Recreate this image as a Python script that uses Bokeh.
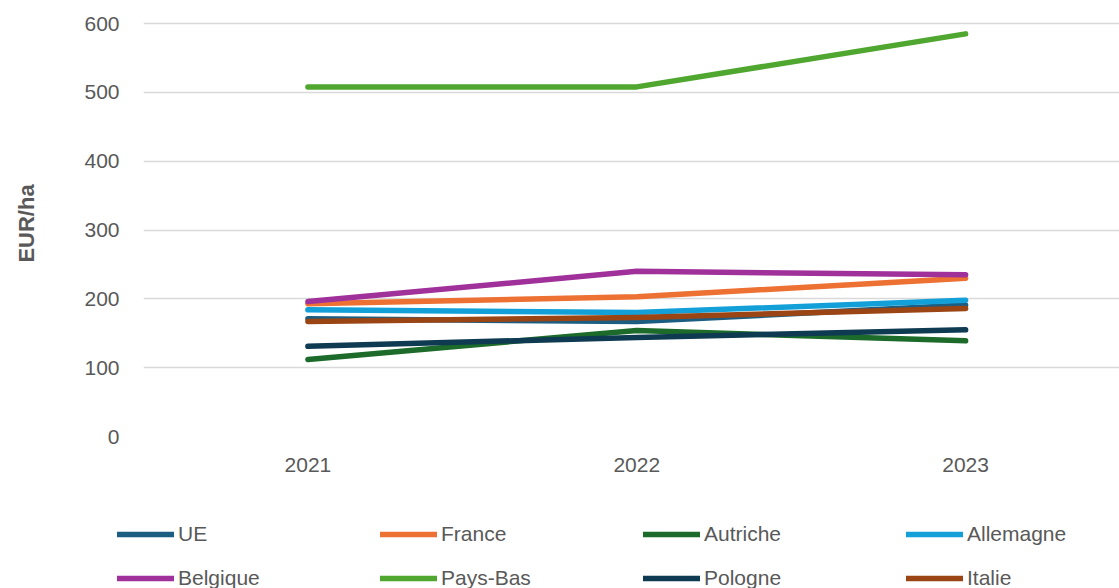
from bokeh.plotting import figure
from bokeh.layouts import column
from bokeh.models import Range1d, FixedTicker, Legend, LegendItem
from bokeh.embed import file_html
from bokeh.resources import INLINE

years = ["2021", "2022", "2023"]
series_names = ["UE", "France", "Autriche", "Allemagne", "Belgique", "Pays-Bas", "Pologne", "Italie"]
ue = [171, 167, 191]
france = [193, 203, 230]
autriche = [112, 154, 139]
allemagne = [184, 180, 198]
belgique = [196, 240, 235]
pays_bas = [508, 508, 585]
pologne = [131, 144, 155]
italie = [167, 173, 186]
series_values = [ue, france, autriche, allemagne, belgique, pays_bas, pologne, italie]
colors = ["#1b5e82", "#ec7132", "#1d6b2a", "#13a0d8", "#a0309a", "#4fa72f", "#0e3a52", "#9c4514"]
y_ticks = [0, 100, 200, 300, 400, 500, 600]

xs = list(range(len(years)))

p = figure(width=1119, height=490, output_backend="svg", toolbar_location=None,
           x_range=Range1d(-0.5, 2.468), y_range=Range1d(0, 619),
           min_border_left=143, min_border_right=0, min_border_top=10, min_border_bottom=54)
p.outline_line_color = None
p.xgrid.grid_line_color = None
p.ygrid.grid_line_color = "#d9d9d9"
p.ygrid.grid_line_width = 1.3
p.ygrid.ticker = FixedTicker(ticks=y_ticks)

p.yaxis.ticker = FixedTicker(ticks=y_ticks)
p.xaxis.ticker = FixedTicker(ticks=xs)
p.xaxis.major_label_overrides = {i: y for i, y in enumerate(years)}
for ax in (p.xaxis, p.yaxis):
    ax.axis_line_color = None
    ax.major_tick_line_color = None
    ax.minor_tick_line_color = None
    ax.major_tick_out = 0
    ax.major_tick_in = 0
    ax.minor_tick_out = 0
    ax.major_label_text_font = "Liberation Sans"
    ax.major_label_text_font_size = "21px"
    ax.major_label_text_color = "#595959"
p.yaxis.major_label_standoff = 24
p.xaxis.major_label_standoff = 21
p.yaxis.axis_label = "EUR/ha"
p.yaxis.axis_label_text_font = "Liberation Sans"
p.yaxis.axis_label_text_font_style = "bold"
p.yaxis.axis_label_text_font_size = "22px"
p.yaxis.axis_label_text_color = "#595959"
p.yaxis.axis_label_standoff = 42

for name, vals, c in zip(series_names, series_values, colors):
    p.line(xs, vals, line_color=c, line_width=5.5, line_cap="round", line_join="round")

# legend strip below the chart (its lines lie outside its visible range)
lg = figure(width=1119, height=98, output_backend="svg", toolbar_location=None,
            x_range=Range1d(0, 1), y_range=Range1d(0, 1),
            x_axis_location=None, y_axis_location=None,
            min_border_left=0, min_border_right=0, min_border_top=0, min_border_bottom=0)
lg.frame_align = False
lg.outline_line_color = None
lg.grid.grid_line_color = None
items = []
for name, vals, c in zip(series_names, series_values, colors):
    r = lg.line(xs, vals, line_color=c, line_width=5.5, line_cap="round")
    items.append(LegendItem(label=name, renderers=[r]))

legend = Legend(items=items, location=(117, -2), orientation="horizontal", ncols=4,
                glyph_width=57, glyph_height=20, label_height=20, label_width=182,
                label_standoff=4, spacing=20, padding=0, margin=0,
                label_text_font="Liberation Sans", label_text_font_size="21px",
                label_text_color="#595959", border_line_color=None,
                background_fill_alpha=0)
lg.add_layout(legend, "center")

layout = column(p, lg, spacing=0)
open("out.html", "w").write(file_html(layout, INLINE))
